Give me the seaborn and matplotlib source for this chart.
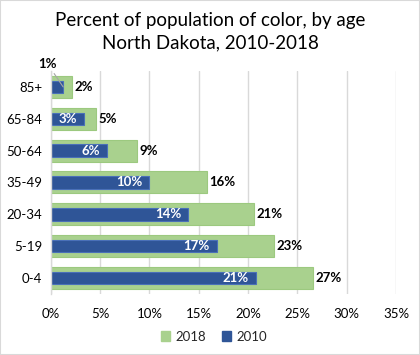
import matplotlib
matplotlib.use("Agg")
import matplotlib.pyplot as plt
from matplotlib.patches import Patch, Rectangle
from matplotlib.ticker import MultipleLocator, FuncFormatter
import seaborn as sns
import pandas as pd

ages = ["85+", "65-84", "50-64", "35-49", "20-34", "5-19", "0-4"]
pct_2018 = [2.1, 4.6, 8.7, 15.8, 20.6, 22.6, 26.6]
pct_2010 = [1.25, 3.4, 5.7, 10.0, 13.9, 16.8, 20.8]
title_text = "Percent of population of color, by age\nNorth Dakota, 2010-2018"

green = "#a9d18e"
blue = "#2f5597"

sns.set_theme(style="white")
plt.rcParams["font.family"] = ["Lato", "DejaVu Sans"]

df = pd.DataFrame({"age": ages, "y2018": pct_2018, "y2010": pct_2010})

fig = plt.figure(figsize=(4.2, 3.55), dpi=100)
ax = fig.add_axes([0.121, 0.172, 0.822, 0.628])

sns.barplot(data=df, y="age", x="y2018", orient="h", order=ages, color=green,
            width=0.69, saturation=1, edgecolor="#9cc97f", linewidth=0.8, ax=ax)
sns.barplot(data=df, y="age", x="y2010", orient="h", order=ages, color=blue,
            width=0.39, saturation=1, edgecolor="#4a70b8", linewidth=0.8, ax=ax)

ax.set_xlim(0, 35)
ax.xaxis.set_major_locator(MultipleLocator(5))
ax.xaxis.set_major_formatter(FuncFormatter(lambda v, p: f"{v:.0f}%"))
ax.set_xlabel("")
ax.set_ylabel("")
ax.grid(axis="x", color="#d9d9d9", linewidth=1)
ax.grid(axis="y", visible=False)
ax.set_axisbelow(True)
for s in ["top", "right", "bottom"]:
    ax.spines[s].set_visible(False)
ax.spines["left"].set_color("#d9d9d9")
ax.spines["left"].set_linewidth(1)
ax.tick_params(axis="both", length=0, labelsize=9.5, colors="#000000")
ax.tick_params(axis="x", pad=10)
ax.tick_params(axis="y", pad=6)

# 2018 labels outside end
for i, v in enumerate(pct_2018):
    ax.annotate(f"{v:.0f}%", (v, i), xytext=(2, 0), textcoords="offset points",
                ha="left", va="center", fontsize=9.5, fontweight="bold", color="black")

# 2010 labels inside end (first one with leader line)
for i, v in enumerate(pct_2010):
    if i == 0:
        ax.annotate(f"{v:.0f}%", (v, i), xytext=(-11, 12), textcoords="offset points",
                    ha="center", va="bottom", fontsize=9.5, fontweight="bold", color="black",
                    arrowprops=dict(arrowstyle="-", color="#a6a6a6", lw=0.8,
                                    shrinkA=0, shrinkB=0))
    else:
        ax.annotate(f"{v:.0f}%", (v, i), xytext=(-5, 0), textcoords="offset points",
                    ha="right", va="center", fontsize=9.5, fontweight="bold", color="white")

fig.suptitle(title_text, y=0.965, fontsize=13.5, linespacing=1.35, color="#000000")

handles = [Patch(facecolor=green, edgecolor=green, label="2018"),
           Patch(facecolor=blue, edgecolor=blue, label="2010")]
fig.legend(handles=handles, loc="center", bbox_to_anchor=(0.51, 0.052), ncol=2,
           frameon=False, fontsize=9.5, handlelength=0.7, handleheight=0.7,
           handletextpad=0.4, columnspacing=1.2)

fig.patches.append(Rectangle((0, 0), 1, 1, transform=fig.transFigure, fill=False,
                             edgecolor="#d9d9d9", linewidth=1.5))

fig.savefig("out.png", dpi=100)
